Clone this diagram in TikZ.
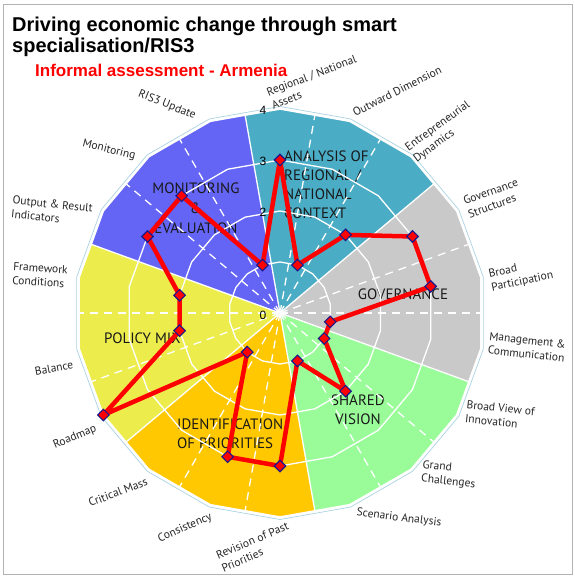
\documentclass[tikz,border=0pt]{standalone}
\usepackage{fontspec}
\setmainfont{PT Sans}
\newfontfamily\titlefont{Liberation Sans}
\usetikzlibrary{shapes.geometric}
\definecolor{cAna}{RGB}{75,172,198}
\definecolor{cGov}{RGB}{201,201,201}
\definecolor{cSha}{RGB}{153,252,153}
\definecolor{cIde}{RGB}{255,200,0}
\definecolor{cPol}{RGB}{236,236,77}
\definecolor{cMon}{RGB}{100,100,245}
\definecolor{navy}{RGB}{25,25,140}
\definecolor{rimcol}{RGB}{170,210,225}
\begin{document}
\begin{tikzpicture}[x=1pt,y=1pt,
  lbl/.style={font=\fontsize{11.5}{14}\selectfont, text=black!85, align=left, inner sep=0},
  sec/.style={font=\fontsize{15}{19}\selectfont, text=black!90, inner sep=0},
  num/.style={font=\titlefont\fontsize{12}{12}\selectfont, inner sep=0},
  gridline/.style={white, line width=1.3},
  dashline/.style={white, line width=1.3, dash pattern=on 8pt off 6pt},
  dataline/.style={red, line width=4.5, line join=round},
  ptmark/.style={diamond, fill=red, draw=navy, line width=1.1, inner sep=0, minimum size=12pt},
  ttl/.style={anchor=base west, inner sep=0, font=\titlefont\bfseries\fontsize{20}{20}\selectfont}
]
\useasboundingbox (-280,-265) rectangle (295,313);
\draw[gray!60, line width=0.8] (-277,309) rectangle (292,-261);
% sectors
\begin{scope}
\clip plot[samples at={10,30,...,350}] ({\x}:{204}) -- cycle;
\fill[cAna] (0,0) -- (40:300) -- (70:300) -- (100:300) -- cycle;
\fill[cGov] (0,0) -- (-20:300) -- (10:300) -- (40:300) -- cycle;
\fill[cSha] (0,0) -- (-80:300) -- (-50:300) -- (-20:300) -- cycle;
\fill[cIde] (0,0) -- (-140:300) -- (-110:300) -- (-80:300) -- cycle;
\fill[cPol] (0,0) -- (160:300) -- (190:300) -- (220:300) -- cycle;
\fill[cMon] (0,0) -- (100:300) -- (130:300) -- (160:300) -- cycle;
\end{scope}
% sector titles
\node[sec, anchor=west, align=left] (tAna) at (4,128) {ANALYSIS OF\\REGIONAL /\\NATIONAL\\CONTEXT};
\node[sec, align=center, font=\fontsize{15}{20}\selectfont] (tMon) at (-84,105) {MONITORING\\\&\\EVALUATION};
\node[sec] (tGov) at (123,19) {GOVERNANCE};
\node[sec, align=center] (tSha) at (78,-97) {SHARED\\VISION};
\node[sec, anchor=west] (tPol) at (-176,-25) {POLICY MIX};
\node[sec, anchor=west, align=left] (tIde) at (-103,-121) {IDENTIFICATION\\OF PRIORITIES};
% grid
\foreach \a in {0,20,60,80,120,140,180,200,240,260,300,320}
  \draw[dashline] (0,0) -- (\a:204);
\foreach \a in {40,100,160,220,280,340}
  \draw[gridline] (0,0) -- (\a:204);
\foreach \r in {1,2,3}
  \draw[gridline] plot[samples at={10,30,...,350}] ({\x}:{\r*51}) -- cycle;
\draw[rimcol, line width=0.7] plot[samples at={10,30,...,350}] ({\x}:{206.5}) -- cycle;
\draw[white, line width=1.6] plot[samples at={10,30,...,350}] ({\x}:{204}) -- cycle;
% scale numbers
\node[num] (n0) at (-17,-2) {0};
\node[num] (n1) at (-17,50) {1};
\node[num] (n2) at (-17,101) {2};
\node[num] (n3) at (-17,152) {3};
\node[num] (n4) at (-17,203) {4};
% data
\foreach \a/\v [count=\i] in {90/3,70/1,50/2,30/3,10/3,-10/1,-30/1,-50/2,-70/1,-90/3,-110/3,-130/1,-150/4,190/2,170/2,150/3,130/3,110/1}
  \coordinate (p\i) at (\a:\v*51);
\draw[dataline] (p1) -- (p2) -- (p3) -- (p4) -- (p5) -- (p6) -- (p7) -- (p8) -- (p9) -- (p10) -- (p11) -- (p12) -- (p13) -- (p14) -- (p15) -- (p16) -- (p17) -- (p18) -- cycle;
\foreach \i in {1,...,18}
  \node[ptmark] (d\i) at (p\i) {};
% axis labels
\node[lbl, rotate=21] (l1) at (34,231) {Regional / National\\Assets};
\node[lbl, rotate=27] (l2) at (117,222) {Outward Dimension};
\node[lbl, rotate=36] (l3) at (162,181) {Entrepreneurial\\Dynamics};
\node[lbl, rotate=20] (l4) at (213,115) {Governance\\Structures};
\node[lbl, rotate=12] (l5) at (241,38) {Broad\\Participation};
\node[lbl, rotate=-6] (l6) at (247,-34) {Management \&\\Communication};
\node[lbl, rotate=-6] (l7) at (220,-102) {Broad View of\\Innovation};
\node[lbl, rotate=-6] (l8) at (169,-162) {Grand\\Challenges};
\node[lbl, rotate=-7] (l9) at (119,-205) {Scenario Analysis};
\node[lbl, rotate=23] (l10) at (-25,-234) {Revision of Past\\Priorities};
\node[lbl, rotate=24] (l11) at (-95,-215) {Consistency};
\node[lbl, rotate=21] (l12) at (-162,-179) {Critical Mass};
\node[lbl, rotate=23] (l13) at (-205,-124) {Roadmap};
\node[lbl, rotate=10] (l14) at (-226,-55) {Balance};
\node[lbl, rotate=-4] (l15) at (-240,38) {Framework\\Conditions};
\node[lbl, rotate=-6] (l16) at (-228,102) {Output \& Result\\Indicators};
\node[lbl, rotate=-14] (l17) at (-171,163) {Monitoring};
\node[lbl, rotate=-22] (l18) at (-113,208) {RIS3 Update};
% title
\node[ttl] (t1) at (-268,281) {Driving economic change through smart};
\node[ttl] (t2) at (-268,260) {specialisation/RIS3};
\node[anchor=base west, inner sep=0, text=red, font=\titlefont\bfseries\fontsize{17}{17}\selectfont] (t3) at (-245,236) {Informal assessment - Armenia};
\end{tikzpicture}
\end{document}
